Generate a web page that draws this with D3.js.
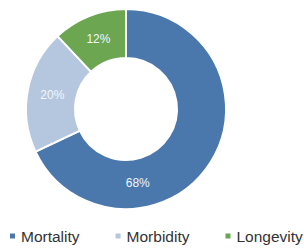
<!DOCTYPE html>
<html>
<head>
<meta charset="utf-8">
<script src="https://cdn.jsdelivr.net/npm/d3@7"></script>
<style>
  body { margin: 0; background: #fff; }
  text { font-family: "Liberation Sans", Arial, sans-serif; }
</style>
</head>
<body>
<div id="wrapper"></div>
<script>
// 1. Data

const categories = ["Mortality", "Morbidity", "Longevity"];
const shares = [68, 20, 12];
const colors = ["#4a78ad", "#b5c7df", "#6ca651"];

// 2. Dimensions

const width = 304;
const height = 248;
const center = { x: 126, y: 109 };
const outerRadius = 100;
const innerRadius = 51;

// 3. Canvas

const svg = d3.select("#wrapper")
  .append("svg")
    .attr("width", width)
    .attr("height", height);

const bounds = svg.append("g")
  .attr("transform", `translate(${center.x}, ${center.y})`);

// 4. Draw data

const pie = d3.pie()
  .sort(null)
  .value(d => d);

const arcs = pie(shares);

const arc = d3.arc()
  .innerRadius(innerRadius)
  .outerRadius(outerRadius);

bounds.selectAll(".slice")
  .data(arcs)
  .join("path")
    .attr("class", "slice")
    .attr("d", arc)
    .attr("fill", (d, i) => colors[i])
    .attr("stroke", "#fff")
    .attr("stroke-width", 2);

// labels sit at the ring middle; the big slice label was nudged toward the bottom
const labelRadius = 75;
const labelAngle = (d, i) => i === 0 ? Math.PI * 0.95 : (d.startAngle + d.endAngle) / 2;

bounds.selectAll(".label")
  .data(arcs)
  .join("text")
    .attr("class", "label")
    .attr("x", (d, i) => labelRadius * Math.sin(labelAngle(d, i)))
    .attr("y", (d, i) => -labelRadius * Math.cos(labelAngle(d, i)))
    .attr("text-anchor", "middle")
    .attr("dominant-baseline", "central")
    .attr("fill", "#f2f5f9")
    .style("font-size", "12px")
    .text(d => `${d.data}%`);

// 5. Legend

const legend = svg.append("g")
  .attr("transform", "translate(10, 236)");

let cursor = 0;
categories.forEach((name, i) => {
  const item = legend.append("g")
    .attr("transform", `translate(${cursor}, 0)`);
  item.append("rect")
    .attr("x", 0)
    .attr("y", -2.5)
    .attr("width", 5)
    .attr("height", 5)
    .attr("fill", colors[i]);
  const label = item.append("text")
    .attr("x", 11)
    .attr("y", 0)
    .attr("dominant-baseline", "central")
    .attr("fill", "#333")
    .style("font-size", "15.5px")
    .text(name);
  cursor += 11 + label.node().getComputedTextLength() + 36;
});
</script>
</body>
</html>
